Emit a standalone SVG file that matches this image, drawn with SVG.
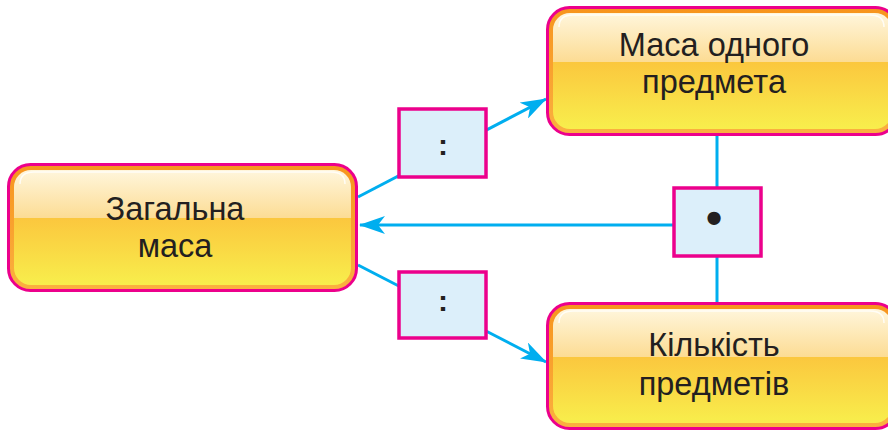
<svg xmlns="http://www.w3.org/2000/svg" width="888" height="431" viewBox="0 0 888 431">
<defs>
<linearGradient id="gFill" x1="0" y1="0" x2="0" y2="1">
<stop offset="0" stop-color="#FFF6DC"/>
<stop offset="0.42" stop-color="#FCDC94"/>
<stop offset="0.42" stop-color="#FBC73E"/>
<stop offset="1" stop-color="#F8EE4C"/>
</linearGradient>
<linearGradient id="gBand" x1="0" y1="0" x2="0" y2="1">
<stop offset="0" stop-color="#F7941D"/>
<stop offset="1" stop-color="#FBB040"/>
</linearGradient>
<marker id="arr" viewBox="0 0 26 18" refX="25" refY="9" markerWidth="26" markerHeight="18" markerUnits="userSpaceOnUse" orient="auto">
<path d="M0,0 L26,9 L0,18 L7,9 Z" fill="#00AEEF"/>
</marker>
<style>
.outer{fill:url(#gBand);stroke:#EC008C;stroke-width:3}
.inner{fill:url(#gFill)}
.hl{fill:none;stroke:#FFFFFF;stroke-width:1.5;stroke-opacity:0.8}
.lbl{font-family:"Liberation Sans",Arial,sans-serif;font-size:32.5px;fill:#231F20;text-anchor:middle}
.op{fill:#DCEFFA;stroke:#EC008C;stroke-width:3.5}
.sym{font-family:"Liberation Sans",Arial,sans-serif;font-weight:bold;fill:#231F20;text-anchor:middle}
.con{stroke:#00AEEF;stroke-width:3;fill:none}
</style>
</defs>
<rect width="888" height="431" fill="#FFFFFF"/>
<g id="connectors">
<line class="con" x1="358" y1="197" x2="546" y2="99" marker-end="url(#arr)"/>
<line class="con" x1="358" y1="265" x2="546" y2="362" marker-end="url(#arr)"/>
<line class="con" x1="717" y1="135" x2="717" y2="303"/>
<line class="con" x1="675" y1="225" x2="360" y2="225" marker-end="url(#arr)"/>
</g>
<g id="node-total">
<rect class="outer" x="8.5" y="164.5" width="348" height="126" rx="22"/>
<rect class="inner" x="14" y="170" width="337" height="115" rx="17"/>
<path class="hl" d="M20,184 Q20,172 34,172 L331,172 Q345,172 345,184"/>
<text class="lbl" x="175" y="220">Загальна</text>
<text class="lbl" x="175" y="257">маса</text>
</g>
<g id="node-mass-one">
<rect class="outer" x="547.5" y="7.5" width="350" height="127" rx="22"/>
<rect class="inner" x="553" y="13" width="339" height="116" rx="17"/>
<path class="hl" d="M559,27 Q559,15 573,15 L870,15 Q884,15 884,27"/>
<text class="lbl" x="714" y="56">Маса одного</text>
<text class="lbl" x="714" y="93">предмета</text>
</g>
<g id="node-count">
<rect class="outer" x="547.5" y="303.5" width="350" height="125" rx="22"/>
<rect class="inner" x="553" y="309" width="339" height="114" rx="17"/>
<path class="hl" d="M559,323 Q559,311 573,311 L870,311 Q884,311 884,323"/>
<text class="lbl" x="714" y="356">Кількість</text>
<text class="lbl" x="714" y="395">предметів</text>
</g>
<g id="op-divide-top">
<rect class="op" x="399" y="109" width="87" height="68"/>
<text class="sym" x="443" y="155" font-size="30">:</text>
</g>
<g id="op-multiply">
<rect class="op" x="674" y="188" width="87" height="68"/>
<text class="sym" x="714" y="234" font-size="46">•</text>
</g>
<g id="op-divide-bottom">
<rect class="op" x="399" y="272" width="87" height="66"/>
<text class="sym" x="443" y="311" font-size="30">:</text>
</g>
</svg>
